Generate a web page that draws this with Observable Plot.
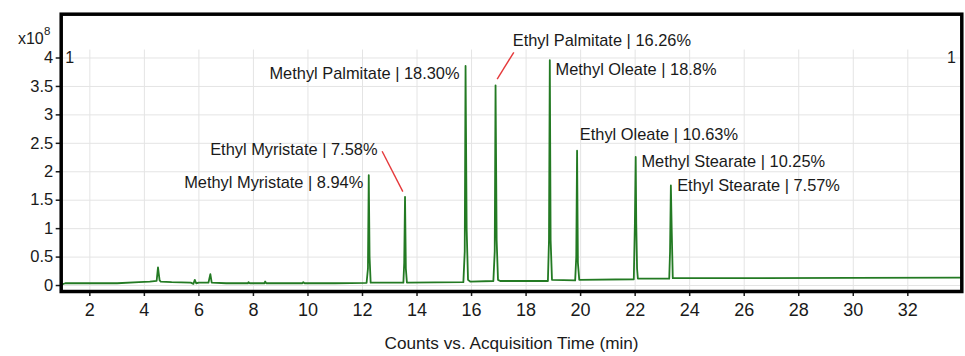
<!DOCTYPE html>
<html>
<head>
<meta charset="utf-8">
<script src="https://cdn.jsdelivr.net/npm/d3@7"></script>
<script src="https://cdn.jsdelivr.net/npm/@observablehq/plot@0.6"></script>
<style>
  html, body { margin: 0; padding: 0; background: #fff; }
  #chart svg { display: block; }
</style>
</head>
<body>
<div id="chart"></div>
<script>
// Chromatogram trace (time in min, counts in units of 1e8)
const traceTime = [
  0.98, 1.1, 2.0, 3.0, 3.8, 4.2, 4.45, 4.5, 4.53, 4.56, 4.6, 5.0, 5.7, 5.8, 5.85, 5.9,
  6.0, 6.35, 6.42, 6.47, 7.0, 7.8, 7.82, 7.86, 8.4, 8.43, 8.47, 8.8, 9.8, 9.83, 9.87, 11.0,
  12.15, 12.2, 12.23, 12.26, 12.3, 13.5, 13.53, 13.56, 13.59, 13.63,
  15.7, 15.75, 15.78, 15.82, 15.87, 15.95,
  16.8, 16.85, 16.88, 16.92, 16.97, 17.05,
  18.8, 18.84, 18.87, 18.9, 18.95,
  19.8, 19.84, 19.87, 19.9, 19.95,
  21.95, 21.99, 22.02, 22.04, 22.07, 22.1,
  23.25, 23.28, 23.31, 23.34, 23.38,
  26.0, 30.0, 33.98
];
const traceCounts = [
  0.02, 0.04, 0.04, 0.04, 0.06, 0.07, 0.08, 0.32, 0.2, 0.09, 0.07, 0.06, 0.05, 0.03, 0.1, 0.04,
  0.05, 0.05, 0.2, 0.05, 0.04, 0.04, 0.06, 0.04, 0.04, 0.07, 0.04, 0.04, 0.04, 0.06, 0.04, 0.04,
  0.045, 0.3, 1.94, 0.5, 0.05, 0.05, 0.4, 1.56, 0.3, 0.05,
  0.06, 0.6, 3.86, 1.0, 0.1, 0.07,
  0.08, 0.6, 3.52, 0.8, 0.1, 0.08,
  0.08, 0.8, 3.96, 0.8, 0.1,
  0.09, 0.5, 2.37, 0.4, 0.1,
  0.11, 1.09, 2.26, 1.1, 0.3, 0.12,
  0.12, 0.6, 1.76, 1.0, 0.13,
  0.13, 0.135, 0.14
];

// Peak annotations
const peakNames = ["Methyl Myristate", "Ethyl Myristate", "Methyl Palmitate", "Ethyl Palmitate",
  "Methyl Oleate", "Ethyl Oleate", "Methyl Stearate", "Ethyl Stearate"];
const peakPercents = ["8.94%", "7.58%", "18.30%", "16.26%", "18.8%", "10.63%", "10.25%", "7.57%"];
// label anchor points in data coordinates
const labelTime = [12.03, 12.55, 15.56, 17.51, 19.08, 19.97, 22.23, 23.54];
const labelCounts = [1.81, 2.39, 3.73, 4.31, 3.8, 2.65, 2.18, 1.75];
const labelAnchor = ["end", "end", "end", "start", "start", "start", "start", "start"];
// leader lines (red) from label to peak
const leaderFromTime = [12.72, 17.55];
const leaderFromCounts = [2.36, 4.10];
const leaderToTime = [13.48, 16.94];
const leaderToCounts = [1.65, 3.63];

const xTicks = [2, 4, 6, 8, 10, 12, 14, 16, 18, 20, 22, 24, 26, 28, 30, 32];
const yTicks = [0, 0.5, 1, 1.5, 2, 2.5, 3, 3.5, 4];
const xDomain = [0.95, 33.98];
const yDomain = [-0.105, 4.77];
const gridTop = 4.14;

const trace = traceTime.map((t, i) => ({t, c: traceCounts[i]}));
const labels = peakNames.map((n, i) => ({
  text: `${n} | ${peakPercents[i]}`, t: labelTime[i], c: labelCounts[i], anchor: labelAnchor[i]
}));
const leaders = leaderFromTime.map((t, i) => ({
  x1: t, y1: leaderFromCounts[i], x2: leaderToTime[i], y2: leaderToCounts[i]
}));

const font = "Liberation Sans, Arial, sans-serif";
const gridColor = "#e4e4e4";
const ink = "#1a1a1a";

const chart = Plot.plot({
  width: 965,
  height: 356,
  marginLeft: 60.7,
  marginRight: 3.7,
  marginTop: 13.7,
  marginBottom: 65,
  style: {fontFamily: font, color: ink, background: "#fff"},
  x: {domain: xDomain, label: null},
  y: {domain: yDomain, label: null},
  marks: [
    Plot.ruleY(yTicks, {stroke: gridColor, strokeWidth: 1}),
    Plot.ruleX(xTicks, {y1: yDomain[0], y2: gridTop, stroke: gridColor, strokeWidth: 1}),
    Plot.axisY({ticks: yTicks, tickFormat: d => String(d), tickSize: 5, tickPadding: 3,
      fontSize: 16.5, stroke: ink, strokeWidth: 1.5}),
    Plot.axisX({ticks: xTicks, tickFormat: d => String(d), tickSize: 5, tickPadding: 7,
      fontSize: 18, stroke: ink, strokeWidth: 1.5}),
    Plot.line(trace, {x: "t", y: "c", stroke: "#237a23", strokeWidth: 1.8, curve: "linear"}),
    Plot.link(leaders, {x1: "x1", y1: "y1", x2: "x2", y2: "y2", stroke: "#e5393b", strokeWidth: 1.4}),
    Plot.text(labels.filter(d => d.anchor === "start"), {x: "t", y: "c", text: "text", textAnchor: "start",
      fontSize: 16.4, fill: ink}),
    Plot.text(labels.filter(d => d.anchor === "end"), {x: "t", y: "c", text: "text", textAnchor: "end",
      fontSize: 16.4, fill: ink}),
    Plot.text([4], {y: d => d, text: () => "1", frameAnchor: "left", textAnchor: "start", dx: 4, fontSize: 16, fill: ink}),
    Plot.text([4], {y: d => d, text: () => "1", frameAnchor: "right", textAnchor: "end", dx: -6, fontSize: 16, fill: ink}),
    Plot.text(["x10"], {frameAnchor: "top-left", text: d => d, textAnchor: "end", lineAnchor: "middle",
      dx: -17.5, dy: 24.5, fontSize: 16, fill: ink}),
    Plot.text(["8"], {frameAnchor: "top-left", text: d => d, textAnchor: "start", lineAnchor: "middle",
      dx: -17.2, dy: 17.5, fontSize: 11.5, fill: ink}),
    Plot.text(["Counts vs. Acquisition Time (min)"], {frameAnchor: "bottom", text: d => d,
      lineAnchor: "middle", dy: 52, fontSize: 17.2, fill: ink}),
    Plot.frame({stroke: "#000", strokeWidth: 3.5})
  ]
});
document.getElementById("chart").appendChild(chart);
</script>
</body>
</html>
